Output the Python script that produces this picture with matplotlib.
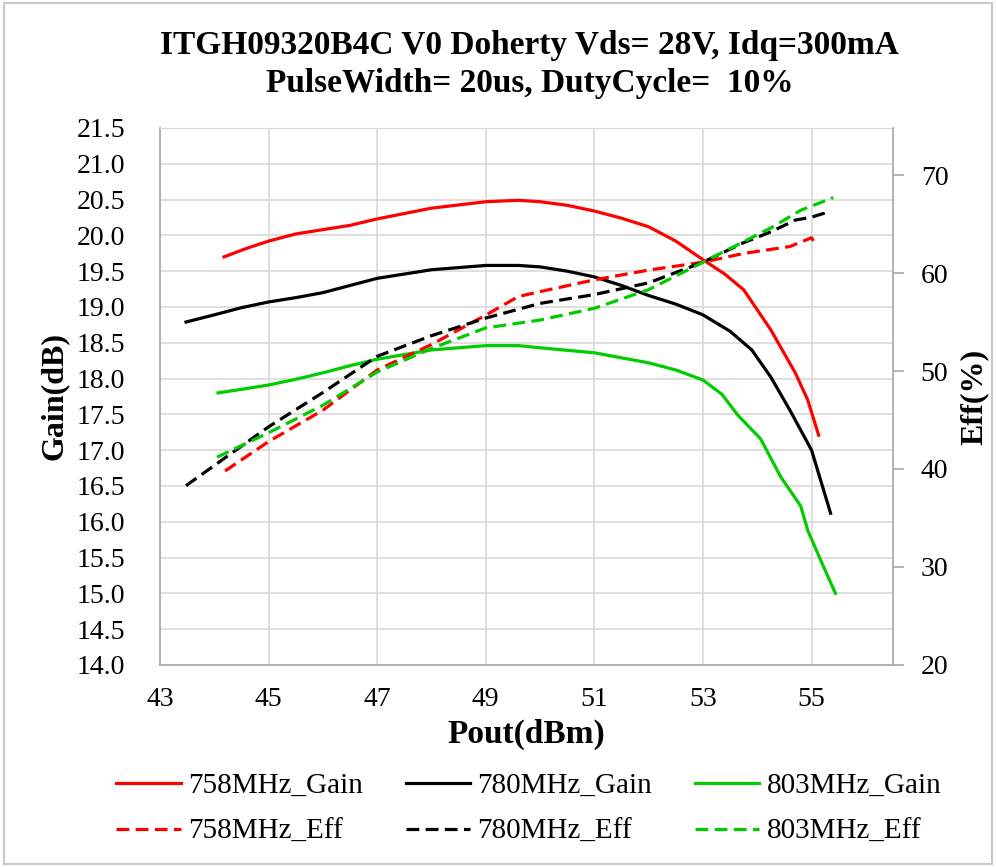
import matplotlib
matplotlib.use('Agg')
import matplotlib.pyplot as plt
from matplotlib.patches import Rectangle
from matplotlib.lines import Line2D

plt.rcParams['font.family'] = ['Liberation Serif', 'DejaVu Serif']

# Gain curves (left axis, dB)
x_758_gain = [44.18, 44.6, 45, 45.5, 46, 46.5, 47, 48, 49, 49.6, 50, 50.5, 51, 51.5, 52, 52.5, 53, 53.4, 53.75, 54.25, 54.7, 54.93, 55.13]
g_758 = [19.70, 19.82, 19.92, 20.02, 20.08, 20.14, 20.23, 20.38, 20.47, 20.49, 20.47, 20.42, 20.34, 20.24, 20.12, 19.92, 19.66, 19.46, 19.24, 18.68, 18.08, 17.70, 17.21]

x_780_gain = [43.48, 44, 44.5, 45, 45.5, 46, 46.5, 47, 48, 49, 49.6, 50, 50.5, 51, 51.5, 52, 52.5, 53, 53.5, 53.9, 54.25, 54.6, 55.0, 55.35]
g_780 = [18.79, 18.89, 18.99, 19.07, 19.13, 19.20, 19.30, 19.40, 19.52, 19.58, 19.58, 19.56, 19.50, 19.42, 19.30, 19.16, 19.04, 18.89, 18.66, 18.40, 18.02, 17.56, 17.00, 16.12]

x_803_gain = [44.07, 44.5, 45, 45.5, 46, 46.5, 47, 48, 49, 49.6, 50, 51, 52, 52.5, 53, 53.35, 53.64, 54.06, 54.43, 54.8, 54.93, 55.17, 55.44]
g_803 = [17.80, 17.85, 17.91, 17.99, 18.08, 18.18, 18.27, 18.40, 18.46, 18.46, 18.43, 18.36, 18.22, 18.12, 17.98, 17.78, 17.49, 17.16, 16.63, 16.22, 15.88, 15.46, 15.00]

# Efficiency curves (right axis, %)
x_758_eff = [44.2, 45, 46, 47, 48, 49, 49.6, 50, 51, 52, 53, 53.75, 54.6, 55.0, 55.05]
e_758 = [39.8, 42.8, 46.0, 50.1, 52.7, 55.7, 57.6, 58.1, 59.3, 60.3, 61.1, 62.0, 62.7, 63.6, 63.1]

x_780_eff = [43.48, 45, 46, 47, 48, 49, 50, 51, 52, 53, 53.75, 54.25, 54.7, 55.0, 55.35]
e_780 = [38.3, 44.3, 47.8, 51.5, 53.6, 55.4, 56.9, 57.8, 59.0, 61.1, 63.1, 64.2, 65.4, 65.7, 66.3]

x_803_eff = [44.05, 45, 46, 47, 48, 49, 50, 51, 52, 53, 53.75, 54.25, 54.8, 55.4]
e_803 = [41.2, 43.7, 46.5, 49.9, 52.3, 54.4, 55.2, 56.4, 58.3, 61.1, 63.2, 64.6, 66.4, 67.7]

x_ticks = [43, 45, 47, 49, 51, 53, 55]
gain_ticks = [14 + 0.5 * i for i in range(16)]
eff_ticks = [20, 30, 40, 50, 60, 70]

RED = '#FF0000'
BLACK = '#000000'
GREEN = '#00CC00'
GRID = '#D9D9D9'
SPINE = '#A6A6A6'

fig = plt.figure(figsize=(9.96, 8.67), dpi=100)
ax = fig.add_axes([0.1606, 0.233, 0.736, 0.6194])
ax2 = ax.twinx()

lw = 2.3
ax.plot(x_758_gain, g_758, color=RED, lw=lw)
ax.plot(x_780_gain, g_780, color=BLACK, lw=lw)
ax.plot(x_803_gain, g_803, color=GREEN, lw=lw)

dash = (0, (4, 2))
ax2.plot(x_758_eff, e_758, color=RED, lw=lw, linestyle=dash)
ax2.plot(x_780_eff, e_780, color=BLACK, lw=lw, linestyle=dash)
ax2.plot(x_803_eff, e_803, color=GREEN, lw=lw, linestyle=dash)

ax.set_xlim(43, 56.5)
ax.set_ylim(14, 21.5)
ax2.set_ylim(20, 74.8)

ax.set_xticks(x_ticks)
ax.set_yticks(gain_ticks)
ax.set_yticklabels(['%.1f' % v for v in gain_ticks])
ax2.set_yticks(eff_ticks)

ax.grid(True, color=GRID, lw=1.2)
ax.set_axisbelow(True)

ax.tick_params(axis='y', length=0, labelsize=20, pad=25)
ax.tick_params(axis='x', length=0, labelsize=20, pad=16)
ax2.tick_params(axis='y', length=8, width=1.2, color=SPINE, labelsize=20, pad=12)

for s in ['left', 'bottom']:
    ax.spines[s].set_color(SPINE)
    ax.spines[s].set_linewidth(1.2)
ax.spines['top'].set_color(GRID)
ax.spines['right'].set_visible(False)
for s in ['left', 'top', 'bottom']:
    ax2.spines[s].set_visible(False)
ax2.spines['right'].set_color(SPINE)
ax2.spines['right'].set_linewidth(1.2)

ax.set_xlabel('Pout(dBm)', fontsize=24, fontweight='bold', labelpad=5)
ax.set_ylabel('Gain(dB)', fontsize=23, fontweight='bold', labelpad=6)
ax2.set_ylabel('Eff(%)', fontsize=23, fontweight='bold', labelpad=8)

fig.text(0.532, 0.947, 'ITGH09320B4C V0 Doherty Vds= 28V, Idq=300mA',
         ha='center', va='center', fontsize=24, fontweight='bold')
fig.text(0.532, 0.904, 'PulseWidth= 20us, DutyCycle=  10%',
         ha='center', va='center', fontsize=24, fontweight='bold')

handles = [
    Line2D([], [], color=RED, lw=lw, label='758MHz_Gain'),
    Line2D([], [], color=RED, lw=lw, linestyle=dash, label='758MHz_Eff'),
    Line2D([], [], color=BLACK, lw=lw, label='780MHz_Gain'),
    Line2D([], [], color=BLACK, lw=lw, linestyle=dash, label='780MHz_Eff'),
    Line2D([], [], color=GREEN, lw=lw, label='803MHz_Gain'),
    Line2D([], [], color=GREEN, lw=lw, linestyle=dash, label='803MHz_Eff'),
]
fig.legend(handles=handles, ncol=3, loc='center', bbox_to_anchor=(0.531, 0.067),
           frameon=False, fontsize=21, handlelength=2.2, handletextpad=0.27,
           columnspacing=1.45, labelspacing=0.68)

fig.patches.append(Rectangle((0.004, 0.004), 0.992, 0.992, transform=fig.transFigure,
                             fill=False, edgecolor='#C8C8C8', lw=1.5))

fig.savefig('out.png', dpi=100)
